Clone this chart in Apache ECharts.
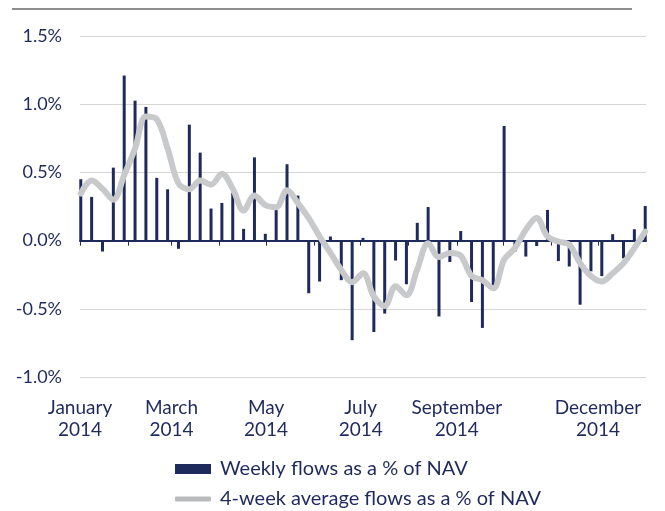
<!DOCTYPE html>
<html>
<head>
<meta charset="utf-8">
<script src="https://cdn.jsdelivr.net/npm/echarts@6/dist/echarts.min.js"></script>
<style>
html,body{margin:0;padding:0;background:#fff;}
#chart{width:665px;height:511px;}
</style>
</head>
<body>
<div id="chart"></div>
<script>
// Week dates (Wednesdays of 2014)
var weeks = [
  '2014-01-01','2014-01-08','2014-01-15','2014-01-22','2014-01-29',
  '2014-02-05','2014-02-12','2014-02-19','2014-02-26',
  '2014-03-05','2014-03-12','2014-03-19','2014-03-26',
  '2014-04-02','2014-04-09','2014-04-16','2014-04-23','2014-04-30',
  '2014-05-07','2014-05-14','2014-05-21','2014-05-28',
  '2014-06-04','2014-06-11','2014-06-18','2014-06-25',
  '2014-07-02','2014-07-09','2014-07-16','2014-07-23','2014-07-30',
  '2014-08-06','2014-08-13','2014-08-20','2014-08-27',
  '2014-09-03','2014-09-10','2014-09-17','2014-09-24',
  '2014-10-01','2014-10-08','2014-10-15','2014-10-22','2014-10-29',
  '2014-11-05','2014-11-12','2014-11-19','2014-11-26',
  '2014-12-03','2014-12-10','2014-12-17','2014-12-24','2014-12-31'
];
// Weekly flows as % of NAV
var weeklyFlows = [
  0.45, 0.32, -0.08, 0.535, 1.21,
  1.026, 0.98, 0.46, 0.376,
  -0.06, 0.85, 0.645, 0.235,
  0.276, 0.35, 0.086, 0.61, 0.05,
  0.24, 0.56, 0.33, -0.386,
  -0.30, 0.03, -0.29, -0.73,
  0.02, -0.67, -0.535, -0.146, -0.32,
  0.13, 0.246, -0.556, -0.157,
  0.07, -0.45, -0.64, -0.33,
  0.84, -0.08, -0.117, -0.04, 0.225,
  -0.15, -0.19, -0.47, -0.225,
  -0.26, 0.047, -0.13, 0.083, 0.254
];
// 4-week average flows as % of NAV
var avgFlows = [
  0.345, 0.44, 0.38, 0.30, 0.48,
  0.675, 0.91, 0.89, 0.675,
  0.42, 0.376, 0.44, 0.41,
  0.49, 0.38, 0.22, 0.33, 0.26,
  0.245, 0.37, 0.275, 0.165,
  0.03, -0.09, -0.215, -0.305,
  -0.24, -0.41, -0.48, -0.335, -0.40,
  -0.21, -0.02, -0.12, -0.09,
  -0.11, -0.26, -0.29, -0.35,
  -0.14, -0.055, 0.08, 0.165, 0.03,
  -0.007, -0.03, -0.165, -0.26,
  -0.30, -0.24, -0.165, -0.055, 0.065
];
var monthNames = ['January','February','March','April','May','June','July','August','September','October','November','December'];
var labelMonths = [0, 2, 4, 6, 8, 11];
var yTicks = [-1.0, -0.5, 0.0, 0.5, 1.0, 1.5];
var seriesNames = ['Weekly flows as a % of NAV', '4-week average flows as a % of NAV'];

var NAVY = '#1f2a5c';
var GREY = '#c8c9cb';
var FONT = 'Lato';

var monthStarts = [];
for (var m = 0; m < 12; m++) monthStarts.push(new Date(2014, m, 1).getTime());
var labelValues = labelMonths.map(function (m) { return monthStarts[m]; });
var xMin = new Date(2014, 0, 1).getTime();
var xMax = new Date(2015, 0, 1).getTime();

function toPoint(d) {
  var p = d.split('-');
  return new Date(+p[0], +p[1] - 1, +p[2], 12).getTime();
}
var barData = weeks.map(function (d, i) { return [toPoint(d), weeklyFlows[i]]; });
var lineData = weeks.map(function (d, i) { return [toPoint(d), avgFlows[i]]; });

var legendText = {color: NAVY, fontSize: 20, fontFamily: FONT, padding: [0, 0, 0, 4]};

var chart = echarts.init(document.getElementById('chart'), null, {renderer: 'canvas'});
chart.setOption({
  animation: false,
  backgroundColor: '#fff',
  textStyle: {fontFamily: FONT},
  graphic: [{
    type: 'line',
    shape: {x1: 12, y1: 9, x2: 632, y2: 9},
    style: {stroke: '#8e8e8e', lineWidth: 2}
  }],
  grid: {left: 80, right: 19, top: 36, bottom: 134, containLabel: false},
  legend: [{
    orient: 'horizontal',
    left: 175,
    top: 459,
    padding: 0,
    itemWidth: 36,
    itemHeight: 10,
    textStyle: legendText,
    data: [{name: seriesNames[0], icon: 'rect'}]
  }, {
    orient: 'horizontal',
    left: 175,
    top: 489,
    padding: 0,
    itemWidth: 36,
    itemHeight: 5,
    textStyle: legendText,
    data: [{name: seriesNames[1], icon: 'roundRect', itemStyle: {color: '#b9babc'}}]
  }],
  xAxis: [{
    type: 'value',
    min: xMin,
    max: xMax,
    position: 'bottom',
    axisLine: {show: true, onZero: true, lineStyle: {color: NAVY, width: 2}},
    axisTick: {show: true, customValues: monthStarts, length: 5, lineStyle: {color: NAVY, width: 1}},
    axisLabel: {show: false},
    splitLine: {show: false}
  }, {
    type: 'value',
    min: xMin,
    max: xMax,
    position: 'bottom',
    axisLine: {show: false, onZero: false},
    axisTick: {show: false},
    splitLine: {show: false},
    axisLabel: {
      show: true,
      customValues: labelValues,
      margin: 20,
      color: NAVY,
      fontSize: 19,
      fontFamily: FONT,
      lineHeight: 22,
      align: 'center',
      formatter: function (v) {
        var d = new Date(v);
        return monthNames[d.getMonth()] + '\n' + d.getFullYear();
      }
    }
  }],
  yAxis: {
    type: 'value',
    min: yTicks[0],
    max: yTicks[yTicks.length - 1],
    interval: 0.5,
    axisLine: {show: false},
    axisTick: {show: false},
    splitLine: {show: true, lineStyle: {color: '#d6d6d6', width: 1}},
    axisLabel: {
      color: NAVY,
      fontSize: 18,
      fontFamily: FONT,
      margin: 18,
      formatter: function (v) { return v.toFixed(1) + '%'; }
    }
  },
  series: [{
    name: seriesNames[0],
    type: 'bar',
    xAxisIndex: 0,
    data: barData,
    barWidth: 3,
    itemStyle: {color: NAVY},
    z: 2
  }, {
    name: seriesNames[1],
    type: 'line',
    xAxisIndex: 0,
    data: lineData,
    smooth: 0.35,
    symbol: 'none',
    lineStyle: {color: GREY, width: 6, cap: 'round', join: 'round'},
    itemStyle: {color: GREY},
    z: 3
  }]
});
</script>
</body>
</html>
